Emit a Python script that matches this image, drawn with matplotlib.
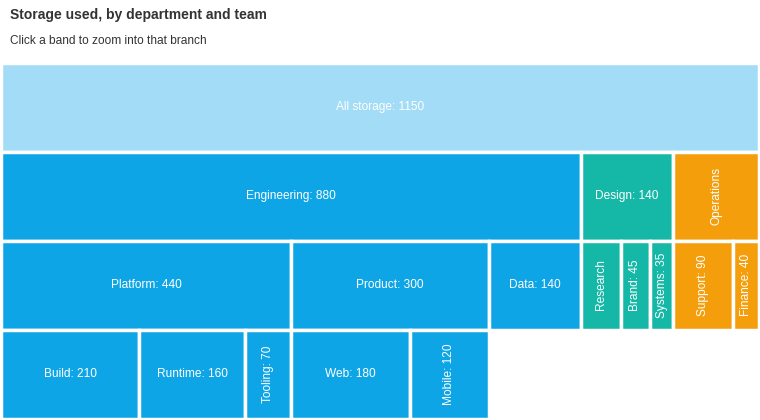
import matplotlib
matplotlib.use("Agg")
import matplotlib.pyplot as plt

plt.rcParams['font.family'] = ['Liberation Sans', 'DejaVu Sans']

# hierarchy data: (name, parent, value)
names = ["All storage", "Engineering", "Design", "Operations",
         "Platform", "Product", "Data",
         "Research", "Brand", "Systems",
         "Support", "Finance",
         "Build", "Runtime", "Tooling",
         "Web", "Mobile"]
parents = [None, "All storage", "All storage", "All storage",
           "Engineering", "Engineering", "Engineering",
           "Design", "Design", "Design",
           "Operations", "Operations",
           "Platform", "Platform", "Platform",
           "Product", "Product"]
values = [1150, 880, 140, 130,
          440, 300, 140,
          60, 45, 35,
          90, 40,
          210, 160, 70,
          180, 120]

dept_colors = {"All storage": "#a3dcf6", "Engineering": "#0ea5e7",
               "Design": "#15b8a6", "Operations": "#f59e0c"}

fig = plt.figure(figsize=(7.6, 4.2), dpi=100)
fig.text(10 / 760, 1 - 15 / 420, "Storage used, by department and team",
         fontsize=10, fontweight="bold", color="#333333", va="center")
fig.text(10 / 760, 1 - 41 / 420, "Click a band to zoom into that branch",
         fontsize=8.6, color="#333333", va="center")

ax = fig.add_axes([1 / 760, 1.5 / 420, 758 / 760, 356 / 420])
ax.set_xlim(0, values[0])
ax.set_ylim(4, 0)
ax.axis("off")

# lay out: x start and depth per node
children = {}
for n, p in zip(names, parents):
    children.setdefault(p, []).append(n)
val = dict(zip(names, values))
start = {"All storage": 0}
depth = {"All storage": 0}
top = {"All storage": "All storage"}
order = ["All storage"]
for n in order:
    x = start[n]
    for c in children.get(n, []):
        start[c] = x
        depth[c] = depth[n] + 1
        top[c] = c if depth[c] == 1 else top[n]
        x += val[c]
        order.append(c)

fig.canvas.draw()
renderer = fig.canvas.get_renderer()
for n in order:
    color = dept_colors["All storage"] if n == "All storage" else dept_colors[top[n]]
    ax.barh(depth[n] + 0.5, val[n], left=start[n], height=1.0, color=color,
            edgecolor="white", linewidth=2.5)
    # rect size in pixels
    (x0, y0), (x1, y1) = ax.transData.transform(
        [(start[n], depth[n]), (start[n] + val[n], depth[n] + 1)])
    w = abs(x1 - x0) - 3.5
    h = abs(y1 - y0) - 3.5
    cx = start[n] + val[n] / 2
    cy = depth[n] + 0.5
    label = f"{n}: {val[n]}"
    t = ax.text(cx, cy, label, color="white", fontsize=8.6, ha="center", va="center")
    tw = t.get_window_extent(renderer).width
    if tw + 16 <= w:
        continue
    t.set_rotation(90)
    if tw + 16 > h:
        t.set_text(n)

fig.savefig("out.png", dpi=100)
